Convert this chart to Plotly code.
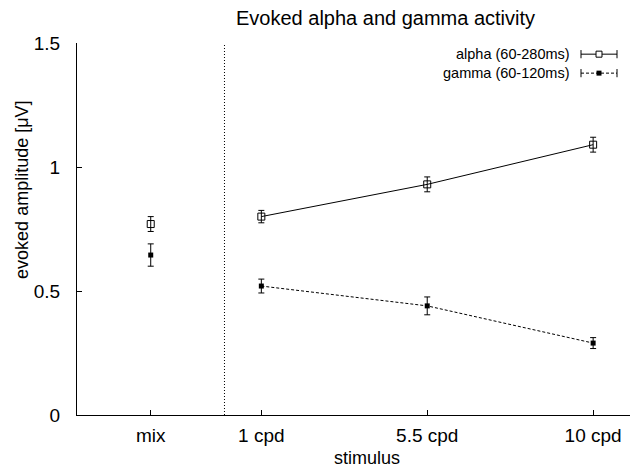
import plotly.graph_objects as go

# Stimulus conditions and their positions on the x axis
stimuli = ["mix", "1 cpd", "5.5 cpd", "10 cpd"]
stim_pos = [-2, 1, 5.5, 10]

# Evoked amplitudes (µV) and their errors
alpha_amp = [0.77, 0.80, 0.93, 1.09]
alpha_err = [0.03, 0.025, 0.03, 0.03]
gamma_amp = [0.645, 0.52, 0.44, 0.29]
gamma_err = [0.045, 0.028, 0.036, 0.022]

y_ticks = [0, 0.5, 1, 1.5]
y_tick_text = ["0", "0.5", "1", "1.5"]

FONT = "Liberation Sans, Arial, Helvetica, sans-serif"
INK = "black"

fig = go.Figure()

series = [
    ("alpha (60-280ms)", alpha_amp, alpha_err, "square-open", 7, "solid"),
    ("gamma (60-120ms)", gamma_amp, gamma_err, "square", 5, "3px,2px"),
]

for name, amp, err, sym, msize, dash in series:
    # connecting line over the grating stimuli only (mix stands apart)
    fig.add_trace(go.Scatter(
        x=stim_pos[1:], y=amp[1:], mode="lines",
        line=dict(color=INK, width=1, dash=dash),
        showlegend=False, hoverinfo="skip",
    ))
    # points with error bars
    fig.add_trace(go.Scatter(
        x=stim_pos, y=amp, mode="markers", name=name,
        marker=dict(symbol=sym, size=msize, color=INK,
                    line=dict(color=INK, width=0 if sym == "square" else 1)),
        error_y=dict(type="data", array=err, visible=True,
                     color=INK, thickness=1, width=3),
        showlegend=False,
    ))

# dotted separator between the mixed stimulus and the gratings
fig.add_shape(type="line", xref="x", yref="y", x0=0, x1=0, y0=0, y1=1.5,
              line=dict(color=INK, width=1, dash="1px,2px"))

# hand-drawn key (gnuplot style: label, then sample with error caps)
key_rows = [(0.970, "solid", "alpha (60-280ms)", False),
            (0.919, "3px,2px", "gamma (60-120ms)", True)]
kx0, kx1 = 0.9114, 0.9765
kxm = (kx0 + kx1) / 2
cap = 0.011
for ky, dash, label, filled in key_rows:
    fig.add_annotation(xref="paper", yref="paper", x=0.895, y=ky,
                       text=label, showarrow=False, xanchor="right",
                       yanchor="middle",
                       font=dict(family=FONT, size=14.5, color=INK))
    fig.add_shape(type="line", xref="paper", yref="paper",
                  x0=kx0, x1=kx1, y0=ky, y1=ky,
                  line=dict(color=INK, width=1, dash=dash))
    for cx in (kx0, kx1):
        fig.add_shape(type="line", xref="paper", yref="paper",
                      x0=cx, x1=cx, y0=ky - cap, y1=ky + cap,
                      line=dict(color=INK, width=1))
    hw, hh = (0.0054, 0.0081) if not filled else (0.0045, 0.0067)
    fig.add_shape(type="rect", xref="paper", yref="paper",
                  x0=kxm - hw, x1=kxm + hw, y0=ky - hh, y1=ky + hh,
                  line=dict(color=INK, width=1 if not filled else 0),
                  fillcolor=INK if filled else "white")

# titles
fig.add_annotation(xref="paper", yref="paper", x=0.557, y=1.067,
                   text="Evoked alpha and gamma activity", showarrow=False,
                   xanchor="center", yanchor="middle",
                   font=dict(family=FONT, size=20, color=INK))
fig.add_annotation(xref="paper", yref="paper", x=-0.0995, y=0.605,
                   text="evoked amplitude [\u03bcV]", showarrow=False,
                   textangle=-90, xanchor="center", yanchor="middle",
                   font=dict(family=FONT, size=18, color=INK))
fig.add_annotation(xref="paper", yref="paper", x=0.524, y=-0.1156,
                   text="stimulus", showarrow=False,
                   xanchor="center", yanchor="middle",
                   font=dict(family=FONT, size=18, color=INK))

fig.update_layout(
    width=630, height=468,
    margin=dict(l=77, r=0, t=43, b=53),
    paper_bgcolor="white", plot_bgcolor="white",
    font=dict(family=FONT, size=18, color=INK),
    showlegend=False,
    xaxis=dict(
        range=[-4, 11], tickmode="array", tickvals=stim_pos,
        ticktext=stimuli, ticks="inside", ticklen=5, tickcolor=INK,
        showline=True, linecolor=INK, linewidth=1, showgrid=False,
        zeroline=False, ticklabelstandoff=3,
        tickfont=dict(family=FONT, size=19, color=INK),
    ),
    yaxis=dict(
        range=[0, 1.5], tickmode="array", tickvals=y_ticks,
        ticktext=y_tick_text, ticks="inside", ticklen=5, tickcolor=INK,
        showline=True, linecolor=INK, linewidth=1, showgrid=False,
        zeroline=False, ticklabelstandoff=12,
        tickfont=dict(family=FONT, size=19, color=INK),
    ),
)

fig.write_html("out.html")
